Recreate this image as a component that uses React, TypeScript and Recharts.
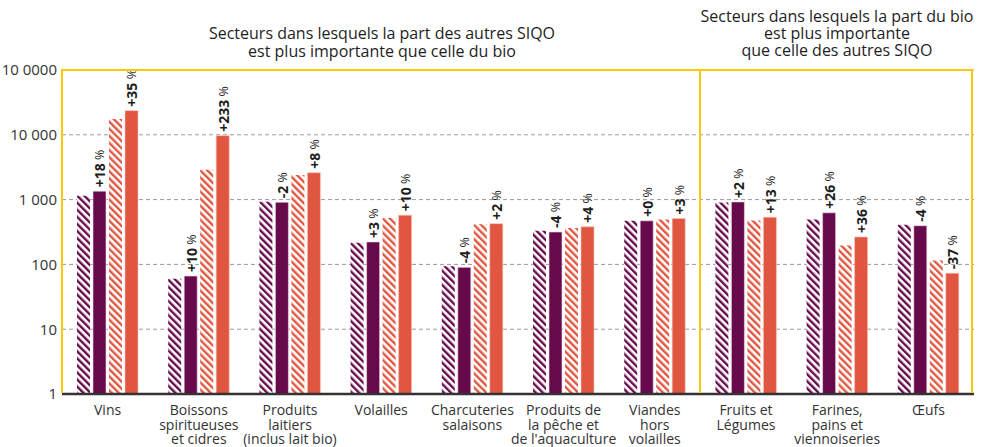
import React from "react";
import { BarChart, Bar, XAxis, YAxis, CartesianGrid, LabelList } from "recharts";

// secteurs (retours à la ligne comme sur l'original)
const categories = [
  "Vins",
  "Boissons\nspiritueuses\net cidres",
  "Produits\nlaitiers\n(inclus lait bio)",
  "Volailles",
  "Charcuteries\nsalaisons",
  "Produits de\nla pêche et\nde l'aquaculture",
  "Viandes\nhors\nvolailles",
  "Fruits et\nLégumes",
  "Farines,\npains et\nviennoiseries",
  "Œufs",
];

const bioBefore = [1150, 60, 930, 215, 94, 330, 470, 900, 495, 410];
const bioAfter = [1350, 66, 910, 222, 90, 316, 470, 920, 625, 395];
const siqoBefore = [17500, 2900, 2400, 520, 415, 365, 495, 475, 195, 115];
const siqoAfter = [23600, 9700, 2600, 575, 425, 380, 510, 535, 265, 73];

const bioChange = ["+18", "+10", "-2", "+3", "-4", "-4", "+0", "+2", "+26", "-4"];
const siqoChange = ["+35", "+233", "+8", "+10", "+2", "+4", "+3", "+13", "+36", "-37"];

const yTicks = [1, 10, 100, 1000, 10000, 100000];
const yTickLabels = ["1", "10", "100", "1 000", "10 000", "10 0000"];

const data = categories.map((name, i) => ({
  name,
  bioBefore: bioBefore[i],
  bioAfter: bioAfter[i],
  siqoBefore: siqoBefore[i],
  siqoAfter: siqoAfter[i],
  bioChange: bioChange[i],
  siqoChange: siqoChange[i],
}));

const PURPLE = "#660a4b";
const ORANGE = "#e05641";
const YELLOW = "#fcc80a";
const FONT = "'Open Sans', sans-serif";

const W = 981;
const H = 447;
const LEFT = 62;
const RIGHT = 7;
const TOP = 70;
const XAXIS_H = 53;
const plotW = W - LEFT - RIGHT;
const plotH = H - TOP - XAXIS_H;

const CategoryTick = ({ x, y, payload }: any) => {
  const lines = String(payload.value).split("\n");
  return (
    <text x={x} y={y + 13} textAnchor="middle" fill="#333" fontSize={14} fontFamily={FONT}>
      {lines.map((l, i) => (
        <tspan key={i} x={x} dy={i === 0 ? 0 : 14.5}>
          {l}
        </tspan>
      ))}
    </text>
  );
};

const ChangeLabel = ({ x, y, width, value }: any) => {
  const cx = Number(x) + Number(width) / 2;
  const cy = Number(y) - 4;
  return (
    <text
      x={cx}
      y={cy}
      transform={`rotate(-90 ${cx} ${cy})`}
      textAnchor="start"
      dominantBaseline="central"
      fill="#1e1e1e"
      fontSize={14}
      fontFamily={FONT}
    >
      <tspan fontWeight={700}>{value}</tspan>
      <tspan fontWeight={400} fontSize={12.5}> %</tspan>
    </text>
  );
};

export default function App() {
  const sep = LEFT + (plotW * 7) / categories.length;
  return (
    <div style={{ position: "absolute", left: 0, top: 0, width: W, height: H, background: "#fff", fontFamily: FONT }}>
      <div style={{ position: "absolute", left: 382 - 250, top: 24, width: 500, textAlign: "center", fontSize: 16, lineHeight: "18px", color: "#1e1e1e" }}>
        Secteurs dans lesquels la part des autres SIQO
        <br />
        est plus importante que celle du bio
      </div>
      <div style={{ position: "absolute", left: 837 - 150, top: 8, width: 300, textAlign: "center", fontSize: 16, lineHeight: "17px", color: "#1e1e1e" }}>
        Secteurs dans lesquels la part du bio
        <br />
        est plus importante
        <br />
        que celle des autres SIQO
      </div>
      <BarChart
        width={W}
        height={H}
        data={data}
        margin={{ top: TOP, right: RIGHT, left: 0, bottom: 0 }}
        barSize={13}
        barGap={3}
      >
        <defs>
          <pattern id="hatchPurple" width="5" height="5" patternUnits="userSpaceOnUse" patternTransform="rotate(-45)">
            <rect width="5" height="5" fill="#fff" />
            <rect width="2.4" height="5" fill={PURPLE} />
          </pattern>
          <pattern id="hatchOrange" width="5" height="5" patternUnits="userSpaceOnUse" patternTransform="rotate(-45)">
            <rect width="5" height="5" fill="#fff" />
            <rect width="2.4" height="5" fill={ORANGE} />
          </pattern>
        </defs>
        <CartesianGrid vertical={false} stroke="#9a9a9a" strokeDasharray="4 3" />
        <XAxis
          dataKey="name"
          interval={0}
          height={XAXIS_H}
          tick={<CategoryTick />}
          tickLine={false}
          axisLine={{ stroke: "#333", strokeWidth: 2.5 }}
        />
        <YAxis
          scale="log"
          domain={[1, 100000]}
          ticks={yTicks}
          allowDataOverflow
          width={LEFT}
          axisLine={false}
          tickLine={false}
          tickFormatter={(v: number) => yTickLabels[yTicks.indexOf(v)] ?? String(v)}
          tick={{ fontSize: 15, fill: "#333", fontFamily: FONT, dx: 3 }}
        />
        <Bar dataKey="bioBefore" fill="url(#hatchPurple)" isAnimationActive={false} />
        <Bar dataKey="bioAfter" fill={PURPLE} stroke="#f2d6e3" strokeWidth={0.6} isAnimationActive={false}>
          <LabelList dataKey="bioChange" content={<ChangeLabel />} />
        </Bar>
        <Bar dataKey="siqoBefore" fill="url(#hatchOrange)" isAnimationActive={false} />
        <Bar dataKey="siqoAfter" fill={ORANGE} stroke="#f6c3b9" strokeWidth={0.6} isAnimationActive={false}>
          <LabelList dataKey="siqoChange" content={<ChangeLabel />} />
        </Bar>
      </BarChart>
      <div
        style={{
          position: "absolute",
          left: LEFT - 1,
          top: TOP - 1,
          width: plotW,
          height: plotH,
          borderTop: `2px solid ${YELLOW}`,
          borderLeft: `2px solid ${YELLOW}`,
          borderRight: `2px solid ${YELLOW}`,
          boxSizing: "border-box",
          pointerEvents: "none",
        }}
      />
      <div
        style={{
          position: "absolute",
          left: sep - 1,
          top: TOP - 1,
          width: 2,
          height: plotH,
          background: YELLOW,
          pointerEvents: "none",
        }}
      />
    </div>
  );
}
